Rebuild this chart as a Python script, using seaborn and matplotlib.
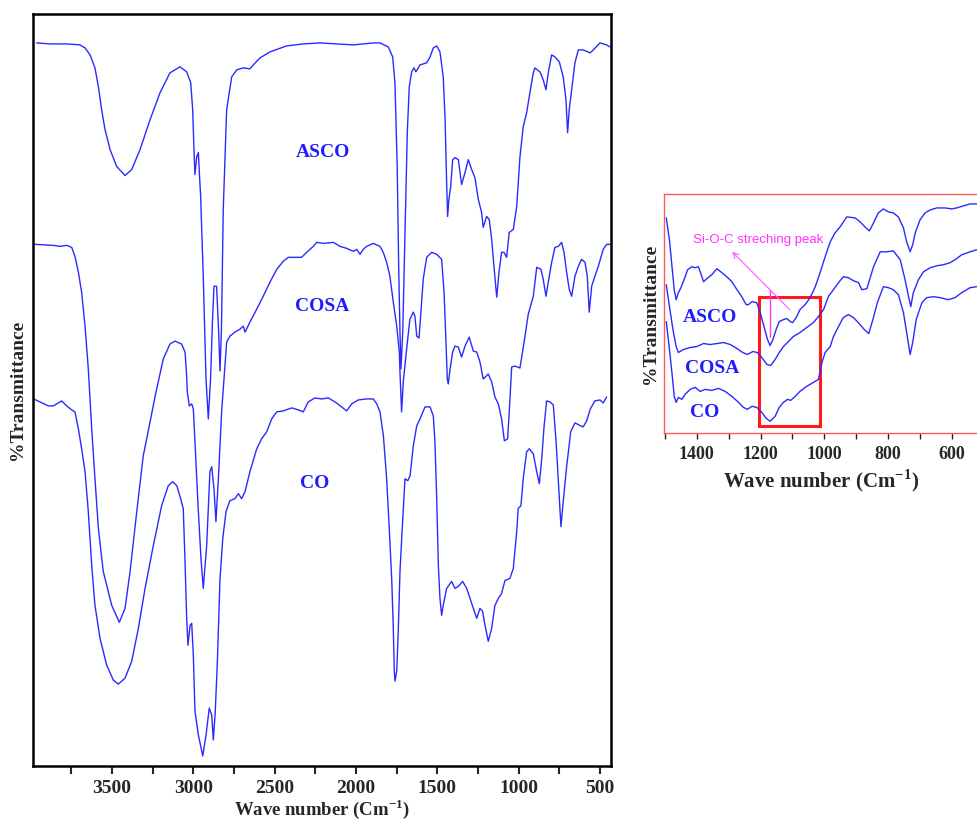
import pandas as pd
import matplotlib
matplotlib.use("Agg")
import matplotlib.pyplot as plt
import seaborn as sns
from matplotlib.patches import Rectangle

# FTIR spectra (wavenumber in cm-1, transmittance in a.u., curves offset)
asco_wn = [3963, 3882, 3779, 3697, 3666, 3635, 3605, 3584, 3564, 3543, 3512, 3471, 3420, 3379, 3328,
           3266, 3205, 3144, 3082, 3041, 3016, 3004, 2996, 2990, 2979, 2969, 2963, 2955, 2939, 2922,
           2908, 2894, 2882, 2873, 2857, 2845, 2836, 2827, 2816, 2795, 2764, 2733, 2693, 2652, 2631,
           2590, 2529, 2426, 2324, 2221, 2118, 2016, 1893, 1852, 1801, 1774, 1760, 1746, 1737, 1729,
           1723, 1712, 1698, 1684, 1672, 1657, 1643, 1631, 1616, 1606, 1565, 1544, 1524, 1503, 1483,
           1463, 1452, 1442, 1436, 1428, 1417, 1405, 1391, 1370, 1350, 1329, 1309, 1288, 1268, 1247,
           1227, 1217, 1196, 1180, 1165, 1151, 1134, 1120, 1104, 1089, 1073, 1057, 1032, 1011, 991,
           971, 950, 930, 909, 899, 885, 868, 848, 831, 817, 796, 776, 749, 725, 708, 698, 688, 673,
           653, 632, 602, 560, 540, 499, 458, 438]
asco_t = [725, 724, 724, 723, 720, 713, 700, 681, 658, 638, 618, 601, 592, 598, 618,
          648, 675, 695, 701, 696, 685, 658, 618, 593, 611, 615, 595, 571, 491, 388,
          348, 388, 448, 481, 481, 438, 396, 438, 558, 658, 691, 698, 700, 699, 703,
          710, 716, 722, 724, 725, 724, 723, 725, 725, 721, 711, 685, 601, 501, 435,
          398, 435, 535, 635, 681, 696, 700, 696, 700, 703, 705, 711, 720, 722, 716,
          691, 651, 585, 551, 568, 581, 608, 610, 608, 583, 595, 608, 598, 590, 568,
          555, 540, 551, 548, 528, 501, 470, 495, 515, 515, 510, 535, 538, 561, 611,
          641, 655, 675, 695, 700, 698, 696, 688, 678, 695, 713, 711, 706, 691, 668, 635, 658, 678,
          705, 718, 718, 715, 718, 725, 723, 721]

cosa_wn = [3974, 3861, 3820, 3779, 3748, 3728, 3707, 3687, 3666, 3646, 3625, 3605, 3584, 3554, 3502,
           3455, 3420, 3389, 3348, 3308, 3266, 3236, 3185, 3144, 3113, 3072, 3051, 3041, 3037, 3025,
           3010, 3000, 2984, 2969, 2953, 2939, 2918, 2898, 2887, 2873, 2861, 2846, 2826, 2795, 2775,
           2744, 2713, 2693, 2682, 2652, 2610, 2570, 2529, 2487, 2447, 2416, 2334, 2303, 2262, 2241,
           2201, 2139, 2098, 2057, 2016, 1995, 1975, 1955, 1934, 1893, 1852, 1832, 1811, 1791, 1770,
           1749, 1733, 1729, 1719, 1709, 1688, 1668, 1647, 1637, 1626, 1612, 1602, 1586, 1565, 1534,
           1503, 1473, 1458, 1446, 1438, 1432, 1421, 1405, 1391, 1370, 1350, 1329, 1303, 1278, 1257,
           1237, 1217, 1186, 1165, 1145, 1124, 1104, 1087, 1067, 1057, 1042, 1022, 991, 960, 940,
           909, 888, 862, 848, 831, 817, 796, 776, 755, 735, 720, 704, 688, 673, 653, 632, 612, 591,
           577, 565, 550, 530, 509, 479, 458, 438]
cosa_t = [523, 522, 521, 522, 520, 511, 495, 475, 441, 398, 338, 288, 238, 195, 161,
          144, 158, 195, 255, 311, 345, 370, 408, 423, 426, 423, 415, 391, 375, 361,
          363, 358, 305, 255, 208, 178, 221, 295, 300, 278, 245, 288, 355, 425, 431,
          435, 438, 441, 435, 445, 458, 471, 485, 498, 506, 510, 510, 515, 521, 525,
          524, 525, 521, 519, 516, 518, 513, 518, 521, 524, 521, 515, 505, 491, 465,
          441, 415, 395, 355, 385, 418, 448, 455, 451, 431, 429, 451, 488, 510, 515,
          513, 508, 475, 425, 388, 383, 398, 415, 421, 420, 410, 421, 430, 416, 415,
          405, 388, 393, 385, 370, 363, 348, 326, 328, 355, 400, 401, 399, 431, 453,
          471, 500, 498, 488, 471, 485, 505, 520, 521, 525, 515, 495, 478, 471, 491, 501, 508, 505,
          491, 455, 481, 491, 501, 518, 523, 523]

co_wn = [3983, 3943, 3892, 3861, 3810, 3779, 3748, 3728, 3707, 3687, 3666, 3646, 3625, 3605, 3574,
         3533, 3492, 3461, 3420, 3379, 3338, 3297, 3246, 3195, 3154, 3127, 3102, 3078, 3062, 3051,
         3041, 3033, 3020, 3010, 3000, 2990, 2969, 2942, 2922, 2902, 2887, 2877, 2865, 2852, 2836,
         2819, 2799, 2775, 2744, 2723, 2703, 2682, 2652, 2610, 2580, 2549, 2518, 2487, 2447, 2395,
         2354, 2324, 2293, 2252, 2211, 2170, 2129, 2088, 2057, 2026, 1985, 1934, 1893, 1872, 1852,
         1831, 1811, 1795, 1780, 1770, 1764, 1760, 1749, 1739, 1729, 1712, 1698, 1681, 1667, 1647,
         1626, 1606, 1575, 1544, 1524, 1514, 1503, 1493, 1483, 1473, 1463, 1442, 1411, 1391, 1370,
         1343, 1319, 1298, 1278, 1257, 1237, 1221, 1206, 1186, 1165, 1145, 1124, 1104, 1083, 1053,
         1032, 1011, 1002, 985, 971, 950, 934, 909, 888, 872, 857, 843, 827, 806, 786, 768, 755,
         739, 725, 704, 679, 653, 619, 602, 581, 558, 530, 499, 479, 458]
co_t = [368, 365, 361, 361, 366, 361, 357, 355, 338, 318, 295, 255, 201, 161, 128,
        101, 86, 82, 88, 105, 138, 178, 221, 261, 281, 285, 281, 268, 258, 205,
        148, 121, 141, 143, 111, 55, 31, 10, 31, 58, 51, 26, 55, 105, 188,
        228, 255, 266, 268, 273, 268, 275, 295, 318, 328, 335, 348, 355, 356, 359,
        357, 355, 365, 369, 368, 369, 365, 360, 356, 363, 367, 368, 368, 363, 355,
        331, 288, 238, 188, 138, 95, 85, 95, 138, 195, 248, 288, 286, 291, 321,
        341, 348, 360, 360, 351, 325, 268, 201, 168, 151, 161, 178, 185, 178, 180,
        185, 178, 168, 158, 148, 158, 155, 141, 125, 138, 161, 168, 173, 186, 188,
        198, 235, 258, 261, 288, 315, 318, 313, 295, 283, 308, 340, 366, 365, 362, 323, 285,
        240, 265, 300, 335, 344, 341, 340, 346, 358, 366, 367, 364, 370]

# zoomed 1500-520 cm-1 region (inset)
ins_asco_wn = [1496, 1486, 1478, 1471, 1465, 1458, 1450, 1440, 1429, 1416, 1405, 1395, 1384, 1379, 1369,
               1353, 1337, 1321, 1306, 1290, 1274, 1259, 1245, 1238, 1227, 1212, 1201, 1189, 1178, 1170,
               1161, 1151, 1141, 1128, 1117, 1107, 1099, 1088, 1076, 1060, 1044, 1028, 1013, 997, 981,
               966, 950, 929, 903, 887, 872, 858, 845, 830, 814, 798, 783, 767, 751, 741, 730, 722,
               714, 699, 683, 667, 646, 620, 599, 584, 563, 542, 521]
ins_asco_t = [216, 194, 167, 144, 134, 141, 146, 154, 164, 167, 166, 167, 157, 152, 155,
              159, 165, 161, 157, 152, 144, 137, 129, 129, 132, 131, 121, 107, 94, 88,
              94, 104, 112, 114, 115, 112, 111, 116, 124, 129, 136, 147, 161, 177, 192,
              201, 207, 217, 216, 212, 207, 203, 211, 221, 225, 222, 221, 217, 206, 192, 182, 189,
              201, 214, 221, 224, 226, 226, 225, 226, 228, 230, 230]

ins_cosa_wn = [1496, 1486, 1475, 1465, 1458, 1442, 1421, 1400, 1379, 1358, 1337, 1316, 1295, 1274, 1256,
               1241, 1224, 1210, 1196, 1180, 1168, 1154, 1141, 1128, 1112, 1097, 1076, 1055, 1034, 1018,
               1002, 987, 971, 955, 940, 924, 908, 892, 882, 866, 845, 824, 803, 783, 761, 746, 735,
               728, 720, 704, 688, 667, 646, 626, 605, 589, 568, 542, 521]
ins_cosa_t = [149, 127, 104, 87, 81, 84, 86, 87, 90, 89, 90, 91, 89, 85, 81,
              79, 82, 81, 76, 69, 68, 74, 81, 87, 92, 97, 101, 106, 111, 117,
              124, 137, 144, 151, 157, 156, 153, 151, 144, 145, 167, 182, 182, 183, 174, 154, 137,
              127, 141, 154, 162, 166, 168, 169, 171, 174, 179, 182, 184]

ins_co_wn = [1496, 1486, 1477, 1471, 1465, 1458, 1447, 1437, 1421, 1405, 1390, 1374, 1353, 1332, 1311,
             1290, 1269, 1254, 1241, 1227, 1212, 1196, 1182, 1170, 1154, 1141, 1128, 1115, 1105, 1091,
             1076, 1055, 1034, 1018, 1007, 997, 981, 971, 955, 940, 924, 908, 887, 874, 860, 847,
             833, 814, 798, 783, 767, 751, 741, 730, 722, 711, 693, 678, 657, 636, 610, 589, 568,
             542, 521]
ins_co_t = [112, 84, 57, 37, 31, 36, 34, 39, 44, 46, 42, 44, 43, 45, 42,
            37, 31, 26, 24, 27, 26, 21, 15, 12, 17, 26, 31, 34, 33, 37,
            42, 47, 51, 54, 71, 81, 87, 97, 107, 116, 119, 116, 109, 104, 100, 114,
            131, 147, 146, 144, 139, 121, 101, 79, 91, 114, 131, 136, 137, 136, 134, 136, 141,
            146, 147]

main_ticks = [3750, 3500, 3250, 3000, 2750, 2500, 2250, 2000, 1750, 1500, 1250, 1000, 750, 500]
inset_ticks = [1500, 1400, 1300, 1200, 1100, 1000, 900, 800, 700, 600]

sns.set_style("white")
plt.rcParams["font.family"] = ["Liberation Serif", "DejaVu Serif"]
plt.rcParams["font.weight"] = "bold"
plt.rcParams["mathtext.fontset"] = "custom"
plt.rcParams["mathtext.rm"] = "Liberation Serif:bold"
plt.rcParams["mathtext.bf"] = "Liberation Serif:bold"

line_col = "#2a2aff"
text_col = "#1c1cff"

fig = plt.figure(figsize=(9.77, 8.24), dpi=100)
ax = fig.add_axes([0.0338, 0.0705, 0.5916, 0.9125])

for wn, t in [(asco_wn, asco_t), (cosa_wn, cosa_t), (co_wn, co_t)]:
    df = pd.DataFrame({"wn": wn, "t": t})
    sns.lineplot(data=df, x="wn", y="t", ax=ax, color=line_col, lw=1.0,
                 estimator=None, sort=False)

ax.set_xlim(3986, 431)
ax.set_ylim(0, 754)
ax.set_xticks(main_ticks)
ax.set_xticklabels([str(v) if v % 500 == 0 else "" for v in main_ticks],
                   fontsize=14, fontweight="bold")
ax.set_yticks([])
ax.tick_params(axis="x", direction="out", length=6, width=1.5, pad=4, bottom=True)
for s in ax.spines.values():
    s.set_color("black")
    s.set_linewidth(1.8)
ax.set_xlabel(r"Wave number (Cm$^{\mathbf{-1}}$)", fontsize=13.5, fontweight="bold", labelpad=0)
ax.set_ylabel("%Transmittance", fontsize=14, fontweight="bold", labelpad=5)

ax.text(2203, 615, "ASCO", color=text_col, fontsize=14, fontweight="bold", ha="center", va="center")
ax.text(2209, 461, "COSA", color=text_col, fontsize=14, fontweight="bold", ha="center", va="center")
ax.text(2252, 283, "CO", color=text_col, fontsize=14, fontweight="bold", ha="center", va="center")

# inset
ax2 = fig.add_axes([0.680, 0.4742, 0.320, 0.2904])
for wn, t in [(ins_asco_wn, ins_asco_t), (ins_cosa_wn, ins_cosa_t), (ins_co_wn, ins_co_t)]:
    df = pd.DataFrame({"wn": wn, "t": t})
    sns.lineplot(data=df, x="wn", y="t", ax=ax2, color=line_col, lw=1.0,
                 estimator=None, sort=False)

ax2.set_xlim(1502, 520)
ax2.set_ylim(0, 240)
ax2.set_xticks(inset_ticks)
ax2.set_xticklabels([str(v) if v % 200 == 0 else "" for v in inset_ticks],
                    fontsize=13, fontweight="bold")
ax2.set_yticks([])
ax2.tick_params(axis="x", direction="out", length=4, width=1.0, pad=5, bottom=True)
for name, s in ax2.spines.items():
    s.set_color("#ff5a5a")
    s.set_linewidth(1.0)
ax2.spines["right"].set_visible(False)
ax2.set_xlabel(r"Wave number (Cm$^{\mathbf{-1}}$)", fontsize=15, fontweight="bold", labelpad=3)
ax2.set_ylabel("%Transmittance", fontsize=14, fontweight="bold", labelpad=4)

ax2.text(1358, 116, "ASCO", color=text_col, fontsize=14, fontweight="bold", ha="center", va="center")
ax2.text(1353, 65, "COSA", color=text_col, fontsize=14, fontweight="bold", ha="center", va="center")
ax2.text(1374, 21, "CO", color=text_col, fontsize=14, fontweight="bold", ha="center", va="center")

ax2.text(1208, 194, "Si-O-C streching peak", color="#ff33ff", fontsize=9.5,
         fontweight="normal", family=["Liberation Sans", "DejaVu Sans"], ha="center", va="center")
ax2.annotate("", xy=(1295, 184), xytext=(1102, 122),
             arrowprops=dict(arrowstyle="->", color="#ff55ff", lw=0.8))
ax2.plot([1170, 1170], [144, 97], color="#ff33ff", lw=1.0)
ax2.add_patch(Rectangle((1013, 7), 193, 130, fill=False, edgecolor="#ff1a1a", lw=2.2))

fig.savefig("out.png", dpi=100)
